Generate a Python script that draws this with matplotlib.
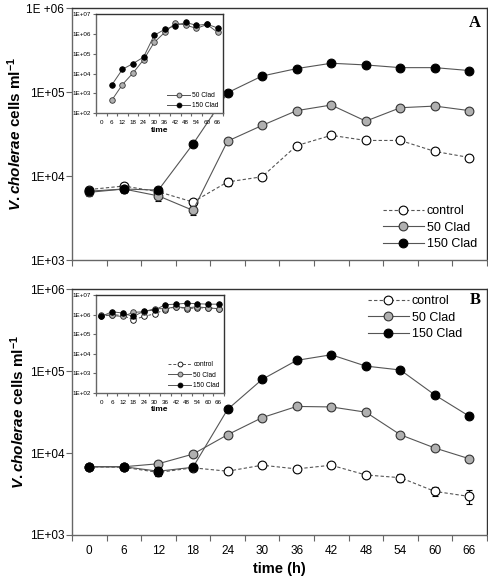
import matplotlib.pyplot as plt
import numpy as np
from matplotlib.lines import Line2D
from matplotlib.ticker import FixedLocator, FixedFormatter, NullFormatter

plt.rcParams['font.family'] = ['Liberation Sans', 'DejaVu Sans']
plt.rcParams['mathtext.fontset'] = 'custom'
plt.rcParams['mathtext.it'] = 'Liberation Sans:italic:bold'
plt.rcParams['mathtext.rm'] = 'Liberation Sans:bold'

hours = [0, 6, 12, 18, 24, 30, 36, 42, 48, 54, 60, 66]

# panel A, main
a_control = [6900, 7600, 6500, 4900, 8500, 9800, 23000, 30500, 26500, 26500, 19600, 16600]
a_50 = [6400, 7000, 5800, 3900, 26000, 40000, 60000, 70000, 45000, 65000, 68000, 60000]
a_150 = [6600, 7000, 6800, 24000, 98000, 155000, 190000, 220000, 210000, 195000, 195000, 180000]
a_control_err = [500, 500, 400, 400, 900, 900, 1500, 1800, 1500, 1500, 1200, 1300]
a_50_err = [600, 700, 800, 500, 1500, 2000, 3000, 3500, 3000, 3500, 3500, 3000]
a_150_err = [500, 500, 500, 1200, 4000, 6000, 7000, 8000, 8000, 7000, 7000, 7000]

# panel A, inset
a_in_hours = [6, 12, 18, 24, 30, 36, 42, 48, 54, 60, 66]
a_in_50 = [460, 2800, 10700, 50000, 370000, 1.2e6, 3.5e6, 2.8e6, 1.9e6, 3.0e6, 1.2e6]
a_in_150 = [2700, 16500, 32000, 68000, 850000, 1.7e6, 2.6e6, 3.8e6, 2.7e6, 3.1e6, 2.0e6]

# panel B, main
b_control = [6800, 6700, 5800, 6600, 6000, 7100, 6400, 7100, 5400, 5000, 3400, 2950]
b_50 = [6800, 6800, 7400, 9700, 16700, 27000, 37000, 36500, 31500, 16700, 11500, 8500]
b_150 = [6800, 6800, 6000, 6700, 34000, 79000, 135000, 158000, 115000, 103000, 51000, 28000]
b_control_err = [400, 400, 500, 400, 500, 600, 500, 600, 500, 600, 450, 550]
b_50_err = [500, 500, 600, 600, 900, 1200, 1500, 1500, 1400, 1000, 700, 500]
b_150_err = [400, 400, 700, 500, 1500, 3000, 5000, 6000, 5000, 4000, 2500, 1500]

# panel B, inset
b_in_control = [8e5, 1.0e6, 9e5, 5.5e5, 8e5, 1.1e6, 1.8e6, 2.5e6, 2.0e6, 2.2e6, 2.2e6, 2.0e6]
b_in_50 = [1.0e6, 9e5, 8e5, 1.3e6, 1.4e6, 2.0e6, 2.0e6, 2.5e6, 2.2e6, 2.5e6, 2.2e6, 2.0e6]
b_in_150 = [8e5, 1.4e6, 1.2e6, 8e5, 1.5e6, 1.7e6, 3.2e6, 3.4e6, 3.8e6, 3.6e6, 3.4e6, 3.4e6]

main_yticks = [1e3, 1e4, 1e5, 1e6]
inset_yticks = [1e2, 1e3, 1e4, 1e5, 1e6, 1e7]
inset_ylabels = ['1E+02', '1E+03', '1E+04', '1E+05', '1E+06', '1E+07']

line_col = '#555555'
gray_fill = '#b0b0b0'
spine_col = '#666666'

# marker styles: control, 50 Clad, 150 Clad
series_names = ['control', '50 Clad', '150 Clad']
series_ls = [(0, (3, 2)), '-', '-']
series_fc = ['white', gray_fill, 'black']
series_ec = ['black', '#333333', 'black']


def idx(hs):
    return [hours.index(h) for h in hs]


def style_axes(ax, yticks, ylabels, show_xlabels, tick_fs, tl):
    ax.set_yscale('log')
    ax.set_ylim(yticks[0], yticks[-1])
    ax.set_xlim(-0.5, len(hours) - 0.5)
    ax.yaxis.set_major_locator(FixedLocator(yticks))
    ax.yaxis.set_major_formatter(FixedFormatter(ylabels))
    ax.yaxis.set_minor_locator(FixedLocator([]))
    ax.xaxis.set_major_locator(FixedLocator(np.arange(-0.5, len(hours), 1.0)))
    ax.xaxis.set_major_formatter(NullFormatter())
    ax.xaxis.set_minor_locator(FixedLocator(np.arange(len(hours))))
    if show_xlabels:
        ax.xaxis.set_minor_formatter(FixedFormatter([str(h) for h in hours]))
    else:
        ax.xaxis.set_minor_formatter(NullFormatter())
    ax.tick_params(axis='x', which='minor', length=0, labelsize=tick_fs, pad=tl + 3)
    ax.tick_params(axis='x', which='major', length=tl, width=0.8, color=spine_col)
    ax.tick_params(axis='y', which='major', length=tl, width=0.8, color=spine_col,
                   labelsize=tick_fs, pad=1.5)
    for s in ax.spines.values():
        s.set_color(spine_col)
        s.set_linewidth(1.0)
    ax.spines['top'].set_color('#333333')
    ax.spines['right'].set_color('#333333')


def handles(which, ms, mew, lw):
    return [Line2D([], [], color=line_col, ls=series_ls[i], lw=lw, marker='o', ms=ms,
                   mfc=series_fc[i], mec=series_ec[i], mew=mew)
            for i in which]


def draw_main(ax, data, errs):
    x = np.arange(len(hours))
    for i in range(3):
        ax.errorbar(x, data[i], yerr=errs[i], color=line_col, ls=series_ls[i], lw=0.8,
                    marker='o', ms=6.3, mfc=series_fc[i], mec=series_ec[i], mew=0.8,
                    ecolor='black', elinewidth=0.8, capsize=2.5, zorder=3 + i)


fig = plt.figure(figsize=(4.88, 5.8), dpi=100)

ylab = r'$V. cholerae$ cells ml$^{-1}$'

# ---- panel A
axA = fig.add_axes([0.1475, 0.5517, 0.850, 0.4345])
draw_main(axA, [a_control, a_50, a_150], [a_control_err, a_50_err, a_150_err])
style_axes(axA, main_yticks, ['1E+03', '1E+04', '1E+05', '1E +06'], False, 8.5, 4)
axA.set_ylabel(ylab, fontsize=11, fontweight='bold', labelpad=2)
axA.text(0.985, 0.94, 'A', transform=axA.transAxes, ha='right', va='center',
         fontsize=12, fontweight='bold', family='Liberation Serif')
axA.legend(handles([0, 1, 2], 6.3, 0.8, 0.8), series_names, loc='lower right',
           frameon=False, fontsize=9, handlelength=3.3, handletextpad=0.2,
           labelspacing=0.35, borderaxespad=0.4)

insA = fig.add_axes([0.1967, 0.8047, 0.260, 0.171])
xa = idx(a_in_hours)
insA.plot(xa, a_in_50, color=line_col, lw=0.7, marker='o', ms=4, mfc=gray_fill,
          mec='#333333', mew=0.6)
insA.plot(xa, a_in_150, color=line_col, lw=0.7, marker='o', ms=4, mfc='black',
          mec='black', mew=0.6)
style_axes(insA, inset_yticks, inset_ylabels, True, 4.5, 2)
insA.set_xlabel('time', fontsize=6, fontweight='bold', labelpad=1)
insA.legend(handles([1, 2], 3.5, 0.6, 0.7), series_names[1:], loc='lower right',
            frameon=False, fontsize=4.8, handlelength=3.5, handletextpad=0.3,
            labelspacing=0.5, borderaxespad=0.2)

# ---- panel B
axB = fig.add_axes([0.1475, 0.0776, 0.850, 0.424])
draw_main(axB, [b_control, b_50, b_150], [b_control_err, b_50_err, b_150_err])
style_axes(axB, main_yticks, ['1E+03', '1E+04', '1E+05', '1E+06'], True, 8.5, 4)
axB.set_ylabel(ylab, fontsize=11, fontweight='bold', labelpad=2)
axB.set_xlabel('time (h)', fontsize=10.5, fontweight='bold', labelpad=4)
axB.text(0.985, 0.955, 'B', transform=axB.transAxes, ha='right', va='center',
         fontsize=12, fontweight='bold', family='Liberation Serif')
axB.legend(handles([0, 1, 2], 6.3, 0.8, 0.8), series_names, loc='upper right',
           frameon=False, fontsize=9, handlelength=3.3, handletextpad=0.2,
           labelspacing=0.35, borderaxespad=0.1, bbox_to_anchor=(0.955, 1.0))

insB = fig.add_axes([0.1967, 0.3224, 0.262, 0.169])
xb = np.arange(len(hours))
insB_data = [b_in_control, b_in_50, b_in_150]
for i in range(3):
    insB.plot(xb, insB_data[i], color=line_col, lw=0.7, ls=series_ls[i], marker='o',
              ms=4, mfc=series_fc[i], mec=series_ec[i], mew=0.6)
style_axes(insB, inset_yticks, inset_ylabels, True, 4.5, 2)
insB.set_xlabel('time', fontsize=6, fontweight='bold', labelpad=1)
insB.legend(handles([0, 1, 2], 3.5, 0.6, 0.7), series_names, loc='lower right',
            frameon=False, fontsize=4.8, handlelength=3.5, handletextpad=0.3,
            labelspacing=0.5, borderaxespad=0.2)

fig.savefig('out.png', dpi=100)
